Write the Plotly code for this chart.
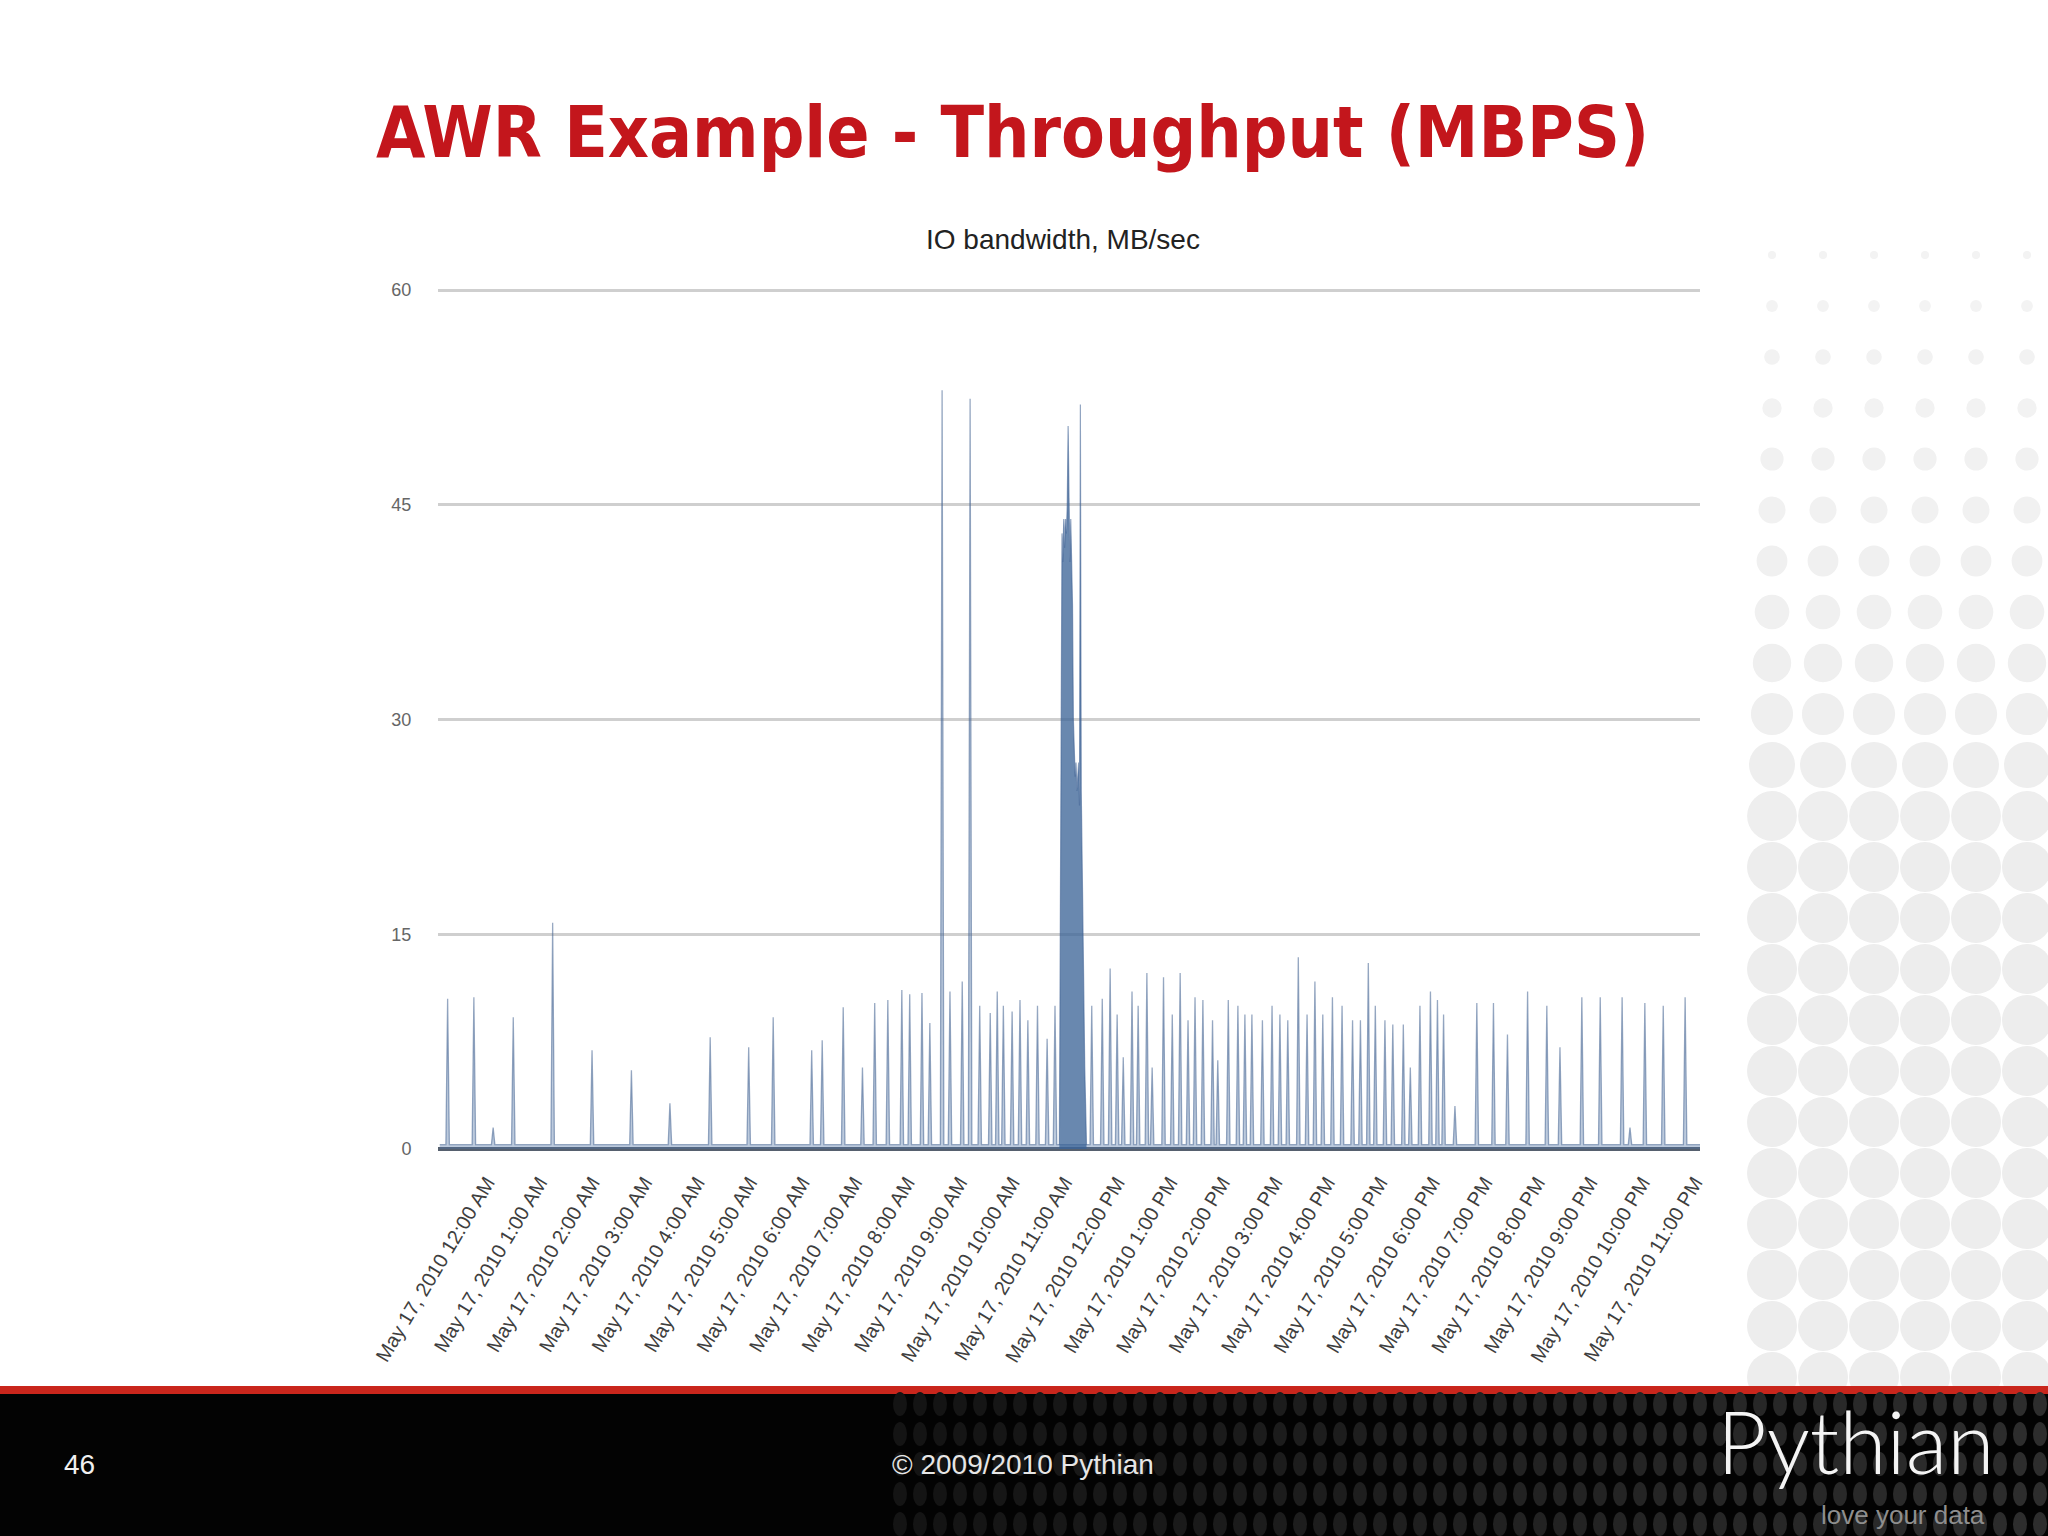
import pandas as pd
import plotly.graph_objects as go

# ---------------- data ----------------
spike_times = [
    "2010-05-16 23:15", "2010-05-16 23:45", "2010-05-17 00:07", "2010-05-17 00:30",
    "2010-05-17 01:15", "2010-05-17 02:00", "2010-05-17 02:45", "2010-05-17 03:29",
    "2010-05-17 04:15", "2010-05-17 04:59", "2010-05-17 05:27", "2010-05-17 06:11",
    "2010-05-17 06:23", "2010-05-17 06:47", "2010-05-17 07:09", "2010-05-17 07:23",
    "2010-05-17 07:38", "2010-05-17 07:54", "2010-05-17 08:03", "2010-05-17 08:17",
    "2010-05-17 08:26", "2010-05-17 08:40", "2010-05-17 08:49", "2010-05-17 09:03",
    "2010-05-17 09:12", "2010-05-17 09:23", "2010-05-17 09:35", "2010-05-17 09:43",
    "2010-05-17 09:50", "2010-05-17 10:00", "2010-05-17 10:09", "2010-05-17 10:18",
    "2010-05-17 10:29", "2010-05-17 10:40", "2010-05-17 10:49",
    "2010-05-17 11:31", "2010-05-17 11:43", "2010-05-17 11:52", "2010-05-17 12:00",
    "2010-05-17 12:07", "2010-05-17 12:17", "2010-05-17 12:24", "2010-05-17 12:34",
    "2010-05-17 12:40", "2010-05-17 12:53", "2010-05-17 13:03", "2010-05-17 13:12",
    "2010-05-17 13:21", "2010-05-17 13:29", "2010-05-17 13:38", "2010-05-17 13:49",
    "2010-05-17 13:55", "2010-05-17 14:07", "2010-05-17 14:18", "2010-05-17 14:26",
    "2010-05-17 14:34", "2010-05-17 14:46", "2010-05-17 14:57", "2010-05-17 15:06",
    "2010-05-17 15:15", "2010-05-17 15:27", "2010-05-17 15:37", "2010-05-17 15:46",
    "2010-05-17 15:55", "2010-05-17 16:06", "2010-05-17 16:17", "2010-05-17 16:29",
    "2010-05-17 16:38", "2010-05-17 16:47", "2010-05-17 16:55", "2010-05-17 17:06",
    "2010-05-17 17:15", "2010-05-17 17:27", "2010-05-17 17:35", "2010-05-17 17:46",
    "2010-05-17 17:58", "2010-05-17 18:06", "2010-05-17 18:13", "2010-05-17 18:26",
    "2010-05-17 18:51", "2010-05-17 19:10", "2010-05-17 19:26", "2010-05-17 19:49",
    "2010-05-17 20:11", "2010-05-17 20:26", "2010-05-17 20:51", "2010-05-17 21:12",
    "2010-05-17 21:37", "2010-05-17 21:46", "2010-05-17 22:03", "2010-05-17 22:24",
    "2010-05-17 22:49",
]
spike_mbps = [
    10.5, 10.6, 1.5, 9.2,
    15.8, 6.9, 5.5, 3.2,
    7.8, 7.1, 9.2, 6.9,
    7.6, 9.9, 5.7, 10.2,
    10.4, 11.1, 10.8, 10.9,
    8.8, 53.0, 11.0, 11.7,
    52.4, 10.0, 9.5, 11.0,
    10.0, 9.6, 10.4, 9.0,
    10.0, 7.7, 10.0,
    10.0, 10.5, 12.6, 9.4,
    6.4, 11.0, 10.0, 12.3,
    5.7, 12.0, 9.4, 12.3,
    9.0, 10.6, 10.4, 9.0,
    6.2, 10.4, 10.0, 9.4,
    9.4, 9.0, 10.0, 9.4,
    9.0, 13.4, 9.4, 11.7,
    9.4, 10.6, 10.0, 9.0,
    9.0, 13.0, 10.0, 9.0,
    8.7, 8.7, 5.7, 10.0,
    11.0, 10.4, 9.4, 3.0,
    10.2, 10.2, 8.0, 11.0,
    10.0, 7.1, 10.6, 10.6,
    10.6, 1.5, 10.2, 10.0,
    10.6,
]
# sustained burst around 11 AM (1-minute samples)
burst_times = [
    "2010-05-17 10:54", "2010-05-17 10:55", "2010-05-17 10:56", "2010-05-17 10:57",
    "2010-05-17 10:58", "2010-05-17 10:59", "2010-05-17 11:00", "2010-05-17 11:01",
    "2010-05-17 11:02", "2010-05-17 11:03", "2010-05-17 11:04", "2010-05-17 11:05",
    "2010-05-17 11:06", "2010-05-17 11:07", "2010-05-17 11:08", "2010-05-17 11:09",
    "2010-05-17 11:10", "2010-05-17 11:11", "2010-05-17 11:12", "2010-05-17 11:13",
    "2010-05-17 11:14", "2010-05-17 11:15", "2010-05-17 11:16", "2010-05-17 11:17",
    "2010-05-17 11:18", "2010-05-17 11:19", "2010-05-17 11:20", "2010-05-17 11:21",
    "2010-05-17 11:22", "2010-05-17 11:23", "2010-05-17 11:24", "2010-05-17 11:25",
]
burst_mbps = [
    0.3, 15, 36, 43, 41, 44, 42, 44,
    43, 45, 50.5, 43, 41, 44, 40, 38,
    30, 27, 26, 27, 25, 26, 27, 24,
    52, 25, 20, 12, 8, 5.7, 3, 0.3,
]

idle_mbps = 0.3
series_start = "2010-05-16 23:06"
series_end = "2010-05-17 23:08"

tick_times = ["2010-05-17 %02d:00" % h for h in range(24)]
tick_labels = [
    "May 17, 2010 12:00 AM", "May 17, 2010 1:00 AM", "May 17, 2010 2:00 AM",
    "May 17, 2010 3:00 AM", "May 17, 2010 4:00 AM", "May 17, 2010 5:00 AM",
    "May 17, 2010 6:00 AM", "May 17, 2010 7:00 AM", "May 17, 2010 8:00 AM",
    "May 17, 2010 9:00 AM", "May 17, 2010 10:00 AM", "May 17, 2010 11:00 AM",
    "May 17, 2010 12:00 PM", "May 17, 2010 1:00 PM", "May 17, 2010 2:00 PM",
    "May 17, 2010 3:00 PM", "May 17, 2010 4:00 PM", "May 17, 2010 5:00 PM",
    "May 17, 2010 6:00 PM", "May 17, 2010 7:00 PM", "May 17, 2010 8:00 PM",
    "May 17, 2010 9:00 PM", "May 17, 2010 10:00 PM", "May 17, 2010 11:00 PM",
]
y_ticks = [0, 15, 30, 45, 60]

# ---------------- build series ----------------
half = pd.Timedelta(minutes=2)
pts = [(pd.Timestamp(series_start), idle_mbps), (pd.Timestamp(series_end), idle_mbps)]
for t, v in zip(spike_times, spike_mbps):
    tt = pd.Timestamp(t)
    pts += [(tt - half, idle_mbps), (tt, v), (tt + half, idle_mbps)]
pts.sort(key=lambda p: p[0])
xs = [p[0] for p in pts]
ys = [p[1] for p in pts]

W, H = 2048, 1536
def px(x):
    return x / W
def py(y):
    return 1 - y / H

fig = go.Figure()
fig.add_trace(go.Scatter(
    x=xs, y=ys, mode="lines", fill="tozeroy",
    line=dict(color="rgba(70,100,145,0.55)", width=1.3),
    fillcolor="rgba(80,115,165,0.38)",
    hoverinfo="skip", showlegend=False,
))
fig.add_trace(go.Scatter(
    x=pd.to_datetime(burst_times), y=burst_mbps, mode="lines", fill="tozeroy",
    line=dict(color="rgba(60,95,145,0.55)", width=1.2),
    fillcolor="rgba(58,98,150,0.76)",
    hoverinfo="skip", showlegend=False,
))

shapes = []
# right-side halftone decoration
cols = [1772, 1823, 1874, 1925, 1976, 2027]
for i in range(23):
    yc = 255 + 51 * i
    r = min(4 + 1.9 * i, 25)
    g = 243 - min(i, 12) // 2
    for xc in cols:
        shapes.append(dict(type="circle", xref="paper", yref="paper",
                           x0=px(xc - r), x1=px(xc + r), y0=py(yc + r), y1=py(yc - r),
                           fillcolor="rgb(%d,%d,%d)" % (g, g, g), line=dict(width=0), layer="below"))
# footer
shapes.append(dict(type="rect", xref="paper", yref="paper", x0=0, x1=1, y0=py(1394), y1=py(1386),
                   fillcolor="#c9261c", line=dict(width=0), layer="below"))
shapes.append(dict(type="rect", xref="paper", yref="paper", x0=0, x1=1, y0=0, y1=py(1394),
                   fillcolor="#030303", line=dict(width=0), layer="below"))
for j in range(5):
    yc = 1404 + 30 * j
    xc = 900
    while xc < W + 10:
        frac = (xc - 900) / (W - 900)
        g = int(20 + 26 * frac)
        shapes.append(dict(type="circle", xref="paper", yref="paper",
                           x0=px(xc - 7), x1=px(xc + 7), y0=py(yc + 12), y1=py(yc - 12),
                           fillcolor="rgb(%d,%d,%d)" % (g, g, g), line=dict(width=0), layer="below"))
        xc += 20

y_bottom = 1149 + 0.5 * 14.317
y_top = 290 - 0.5 * 14.317

fig.update_layout(
    width=W, height=H, autosize=False,
    margin=dict(l=0, r=0, t=0, b=0, pad=0, autoexpand=False),
    paper_bgcolor="white", plot_bgcolor="rgba(0,0,0,0)",
    font=dict(family="Liberation Sans, Arial, sans-serif"),
    shapes=shapes,
    xaxis=dict(
        domain=[px(438), px(1700)],
        type="date", automargin=False,
        range=["2010-05-16 23:04", "2010-05-17 23:06"],
        tickvals=tick_times, ticktext=tick_labels, tickangle=-59,
        tickfont=dict(size=20, color="#3e3e3e"),
        ticks="outside", ticklen=6, tickcolor="rgba(0,0,0,0)",
        showgrid=False, showline=False, zeroline=False,
    ),
    yaxis=dict(
        domain=[py(y_bottom), py(y_top)],
        range=[-0.5, 60.5], automargin=False,
        tickvals=y_ticks,
        tickfont=dict(size=18, color="#666666"),
        ticks="outside", ticklen=22, tickcolor="rgba(0,0,0,0)",
        showgrid=True, gridcolor="#cfcfcf", gridwidth=2.5,
        zeroline=True, zerolinecolor="#56606e", zerolinewidth=3.5,
        showline=False,
    ),
    annotations=[
        dict(text="<b>AWR Example - Throughput (MBPS)</b>", xref="paper", yref="paper",
             x=px(374), y=py(132), xanchor="left", yanchor="middle", showarrow=False,
             font=dict(family="DejaVu Sans Condensed, DejaVu Sans, sans-serif",
                       size=71, color="#c3161c")),
        dict(text="IO bandwidth, MB/sec", xref="paper", yref="paper",
             x=px(1063), y=py(239), xanchor="center", yanchor="middle", showarrow=False,
             font=dict(family="Liberation Sans, Arial, sans-serif", size=28, color="#222222")),
        dict(text="46", xref="paper", yref="paper",
             x=px(79), y=py(1464), xanchor="center", yanchor="middle", showarrow=False,
             font=dict(family="Liberation Sans, sans-serif", size=28, color="#f0f0f0")),
        dict(text="© 2009/2010 Pythian", xref="paper", yref="paper",
             x=px(1023), y=py(1464), xanchor="center", yanchor="middle", showarrow=False,
             font=dict(family="Liberation Sans, sans-serif", size=28, color="#e6e6e6")),
        dict(text="Pythian", xref="paper", yref="paper",
             x=px(1856), y=py(1440), xanchor="center", yanchor="middle", showarrow=False,
             font=dict(family="Lato, Liberation Sans, sans-serif", size=86, color="#f4f4f4", weight=300)),
        dict(text="love your data", xref="paper", yref="paper",
             x=px(1903), y=py(1515), xanchor="center", yanchor="middle", showarrow=False,
             font=dict(family="Liberation Sans, sans-serif", size=26, color="#8e8e8e")),
    ],
)

fig.write_html("out.html", config={"displayModeBar": False},
               post_script="document.body.style.margin='0';document.body.style.overflow='hidden';")
